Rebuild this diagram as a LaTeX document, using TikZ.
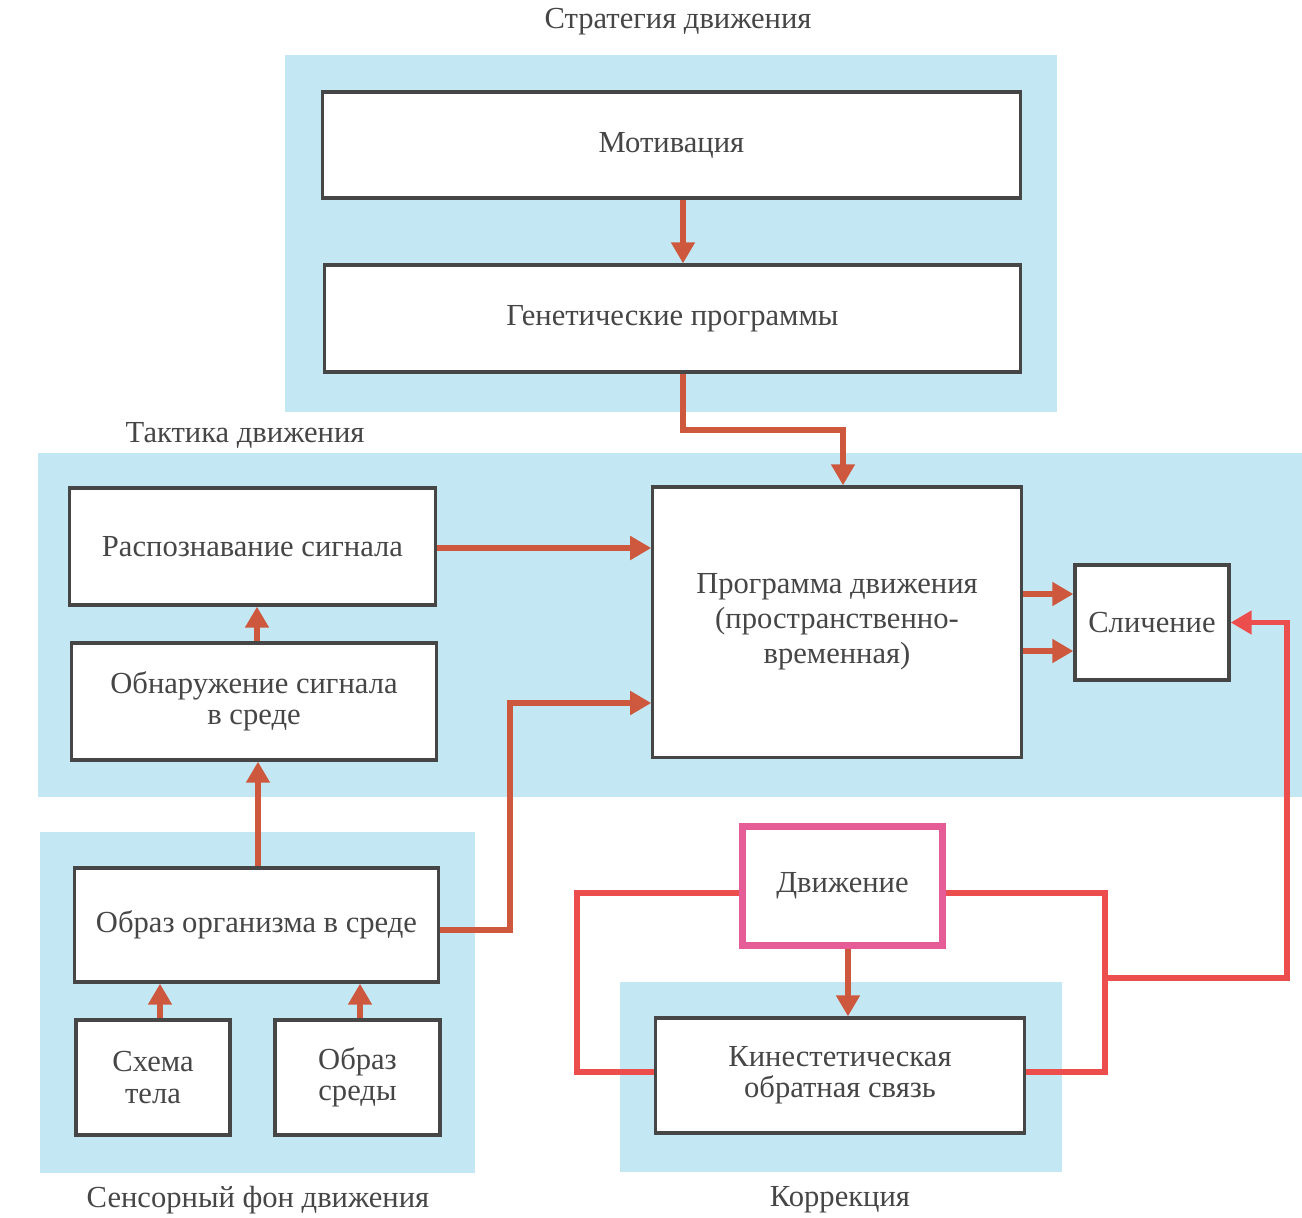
\documentclass[tikz,border=0pt]{standalone}
\usepackage{fontspec}
\setmainfont{Liberation Serif}
\usetikzlibrary{arrows.meta,positioning}
\definecolor{panelblue}{RGB}{196,232,243}
\definecolor{arrowred}{RGB}{205,88,62}
\definecolor{loopred}{RGB}{236,78,78}
\definecolor{movepink}{RGB}{230,92,150}
\definecolor{inkgray}{RGB}{70,70,70}

\begin{document}
\begin{tikzpicture}[x=0.01cm,y=-0.01cm,
    every node/.style={font=\fontsize{8.7}{8.9}\selectfont,text=inkgray},
    blok/.style={draw=inkgray,line width=0.9pt,fill=white,align=center,inner sep=2pt},
    strela/.style={-{Triangle[width=6.5pt,length=6pt]},arrowred,line width=1.7pt},
    petlya/.style={loopred,line width=1.6pt}]
  \useasboundingbox (0,0) rectangle (1302,1217);
  % blue panels
  \fill[panelblue] (285,55) rectangle (1057,412);
  \fill[panelblue] (38,453) rectangle (1302,797);
  \fill[panelblue] (40,832) rectangle (475,1173);
  \fill[panelblue] (620,982) rectangle (1062,1172);
  % panel titles
  \node (strat) at (678,22) {Стратегия движения};
  \node (takt) at (245,435) {Тактика движения};
  \node (sens) at (258,1200) {Сенсорный фон движения};
  \node (korr) at (840,1200) {Коррекция};
  % boxes
  \node[blok,minimum width=6.97cm,minimum height=1.06cm]
    (motiv) at (671.5,145) {Мотивация};
  \node[blok,minimum width=6.95cm,minimum height=1.07cm]
    (gen) at (672.5,318.5) {Генетические программы};
  \node[blok,minimum width=3.65cm,minimum height=1.17cm]
    (raspoz) at (252.5,546.5) {Распознавание сигнала};
  \node[blok,minimum width=3.64cm,minimum height=1.17cm]
    (obnar) at (254,701.5) {Обнаружение сигнала\\в среде};
  \node[blok,minimum width=3.68cm,minimum height=2.70cm,
        font=\fontsize{8.7}{10}\selectfont]
    (progr) at (837,622) {Программа движения\\(пространственно-\\временная)};
  \node[blok,minimum width=1.54cm,minimum height=1.15cm]
    (slich) at (1152,622.5) {Сличение};
  \node[blok,minimum width=3.63cm,minimum height=1.14cm]
    (obraz) at (256.5,925) {Образ организма в среде};
  \node[blok,minimum width=1.54cm,minimum height=1.15cm]
    (shema) at (153,1077.5) {Схема\\тела};
  \node[blok,minimum width=1.65cm,minimum height=1.15cm]
    (sreda) at (357.5,1077.5) {Образ\\среды};
  \node[blok,draw=movepink,line width=2pt,minimum width=1.99cm,minimum height=1.18cm]
    (dvizh) at (842.5,886) {Движение};
  \node[blok,minimum width=3.68cm,minimum height=1.15cm]
    (kines) at (840,1075.5) {Кинестетическая\\обратная связь};
  \coordinate (uzel) at (1105,978);
  % arrows
  \draw[strela] (motiv.south -| 683,0) -- (gen.north -| 683,0);
  \draw[strela] (gen.south -| 683,0) |- (763,430) -| (progr.north -| 843,0);
  \draw[strela] (raspoz.east |- 0,548) -- (progr.west |- 0,548);
  \draw[strela] (obnar.north -| 257,0) -- (raspoz.south -| 257,0);
  \draw[strela] (obraz.north -| 258,0) -- (obnar.south -| 258,0);
  \draw[strela] (obraz.east |- 0,930) -- (510,930) |- (progr.west |- 0,703);
  \draw[strela] (shema.north -| 160,0) -- (obraz.south -| 160,0);
  \draw[strela] (sreda.north -| 360,0) -- (obraz.south -| 360,0);
  \draw[strela] (progr.east |- 0,594) -- (slich.west |- 0,594);
  \draw[strela] (progr.east |- 0,651) -- (slich.west |- 0,651);
  \draw[strela] (dvizh.south -| 848,0) -- (kines.north -| 848,0);
  % correction loop
  \draw[petlya] (dvizh.west |- 0,893) -| (577,1072) -- (kines.west |- 0,1072);
  \draw[petlya] (dvizh.east |- 0,893) -| (uzel) |- (kines.east |- 0,1072);
  \draw[petlya,-{Triangle[width=6.5pt,length=6pt]}] (uzel) -- (1287,978) |- (slich.east);
\end{tikzpicture}
\end{document}
